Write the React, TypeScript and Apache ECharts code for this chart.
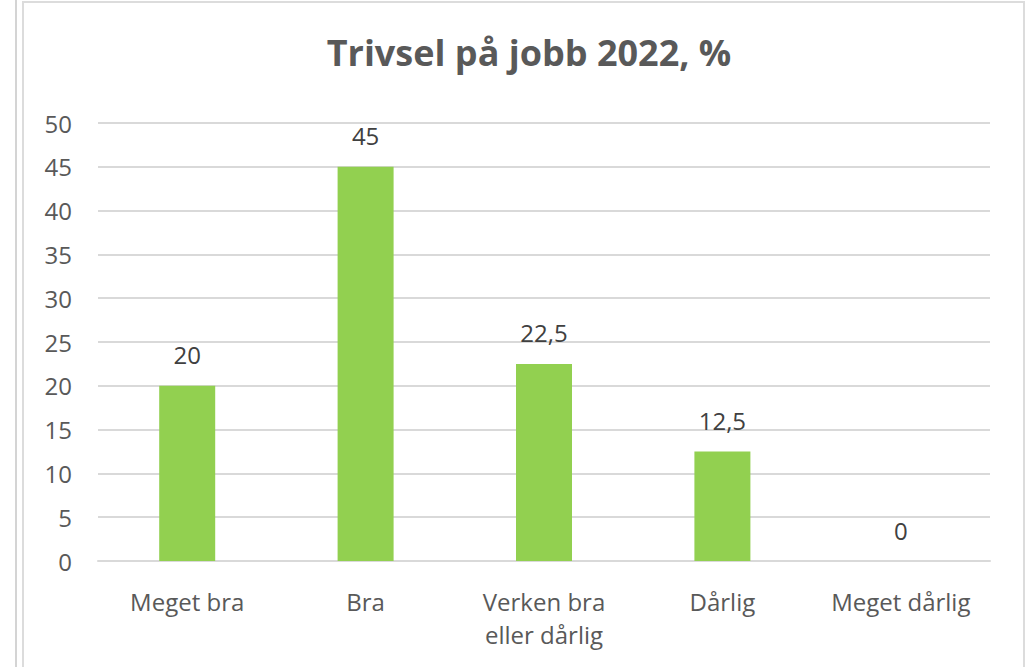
import React, { useEffect, useRef } from "react";
import * as echarts from "echarts";

const title = "Trivsel på jobb 2022, %";
const categories = ["Meget bra", "Bra", "Verken bra\neller dårlig", "Dårlig", "Meget dårlig"];
const values = [20, 45, 22.5, 12.5, 0];
const yMin = 0;
const yMax = 50;
const yInterval = 5;

export default function App() {
  const ref = useRef<HTMLDivElement>(null);
  useEffect(() => {
    if (!ref.current) return;
    const chart = echarts.init(ref.current, undefined, { renderer: "svg" });
    const font = "'Open Sans', 'Noto Sans', sans-serif";
    chart.setOption({
      animation: false,
      backgroundColor: "#ffffff",
      textStyle: { fontFamily: font },
      title: {
        text: title,
        left: 524,
        textAlign: "center",
        top: 29,
        textStyle: { fontFamily: font, fontSize: 36, fontWeight: "bold", color: "#595959" },
      },
      graphic: [
        { type: "line", shape: { x1: 16, y1: 0, x2: 16, y2: 667 }, style: { stroke: "#d4d4d4", lineWidth: 2 } },
        { type: "rect", shape: { x: 23, y: 2, width: 1001, height: 680 }, style: { fill: "none", stroke: "#dcdcdc", lineWidth: 2 } },
      ],
      grid: { left: 98, right: 45, top: 123, bottom: 106, containLabel: false },
      xAxis: {
        type: "category",
        data: categories,
        axisLine: { show: true, lineStyle: { color: "#d9d9d9", width: 2 } },
        axisTick: { show: false },
        axisLabel: { interval: 0, hideOverlap: false, color: "#595959", fontSize: 24, margin: 24, lineHeight: 33, fontFamily: font },
      },
      yAxis: {
        type: "value",
        min: yMin,
        max: yMax,
        interval: yInterval,
        axisLine: { show: false },
        axisTick: { show: false },
        splitLine: { lineStyle: { color: "#d9d9d9", width: 2 } },
        axisLabel: { color: "#595959", fontSize: 24, margin: 26, fontFamily: font },
      },
      series: [
        {
          type: "bar",
          data: values,
          barWidth: 56,
          itemStyle: { color: "#92d050" },
          label: {
            show: true,
            position: "top",
            distance: 19,
            color: "#404040",
            fontSize: 24,
            fontFamily: font,
            formatter: (p: any) => String(p.value).replace(".", ","),
          },
        },
      ],
    });
    return () => chart.dispose();
  }, []);
  return (
    <div
      ref={ref}
      style={{ position: "fixed", left: 0, top: 0, width: 1035, height: 667 }}
    />
  );
}
